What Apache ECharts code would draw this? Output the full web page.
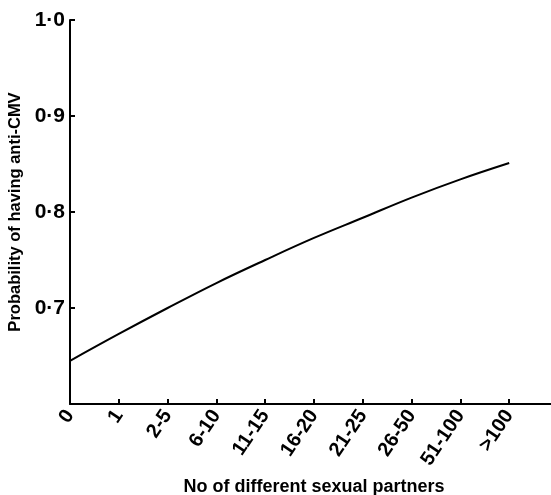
<!DOCTYPE html>
<html>
<head>
<meta charset="utf-8">
<script src="https://cdn.jsdelivr.net/npm/echarts@6/dist/echarts.min.js"></script>
<style>html,body{margin:0;padding:0;background:#fff}#c{width:551px;height:495px}</style>
</head>
<body>
<div id="c"></div>
<script>
var categories = ['0', '1', '2-5', '6-10', '11-15', '16-20', '21-25', '26-50', '51-100', '>100'];
var probability = [0.645, 0.673, 0.700, 0.726, 0.750, 0.773, 0.794, 0.815, 0.834, 0.851];
var yTicks = [0.6, 0.7, 0.8, 0.9, 1.0];

var chart = echarts.init(document.getElementById('c'), null, {renderer: 'canvas'});
var font = 'Liberation Sans';
chart.setOption({
  animation: false,
  backgroundColor: '#fff',
  grid: {left: 70, top: 20, width: 488, height: 384, containLabel: false, outerBoundsMode: 'none'},
  xAxis: {
    type: 'value', min: 0, max: 10, interval: 1,
    name: 'No of different sexual partners',
    nameLocation: 'middle', nameGap: 74,
    nameTextStyle: {color: '#000', fontSize: 18, fontWeight: 'bold', fontFamily: font},
    axisLine: {show: true, lineStyle: {color: '#000', width: 2}},
    axisTick: {show: true, inside: true, length: 5, lineStyle: {color: '#000', width: 2}},
    splitLine: {show: false},
    axisLabel: {
      rotate: 56, margin: 8, color: '#000', fontSize: 20, fontWeight: 'bold', fontFamily: font,
      formatter: function (v) { var i = Math.round(v); return (Math.abs(v - i) < 1e-6 && categories[i] !== undefined) ? categories[i] : ''; }
    }
  },
  yAxis: {
    type: 'value', min: 0.6, max: 1.0, interval: 0.1,
    name: 'Probability of having anti-CMV',
    nameLocation: 'middle', nameGap: 46,
    nameTextStyle: {color: '#000', fontSize: 16.5, fontWeight: 'bold', fontFamily: font},
    axisLine: {show: true, lineStyle: {color: '#000', width: 2}},
    axisTick: {show: true, inside: true, length: 5, lineStyle: {color: '#000', width: 2}},
    splitLine: {show: false},
    axisLabel: {
      margin: 5, color: '#000', fontSize: 21, fontWeight: 'bold', fontFamily: font,
      formatter: function (v) {
        if (Math.abs(v - yTicks[0]) < 1e-6) return '';
        return v.toFixed(1).replace('.', '\u00b7');
      }
    }
  },
  series: [{
    type: 'line',
    data: categories.map(function (c, i) { return [i, probability[i]]; }),
    smooth: 0.4,
    symbol: 'none',
    lineStyle: {color: '#000', width: 2}
  }]
});
</script>
</body>
</html>
